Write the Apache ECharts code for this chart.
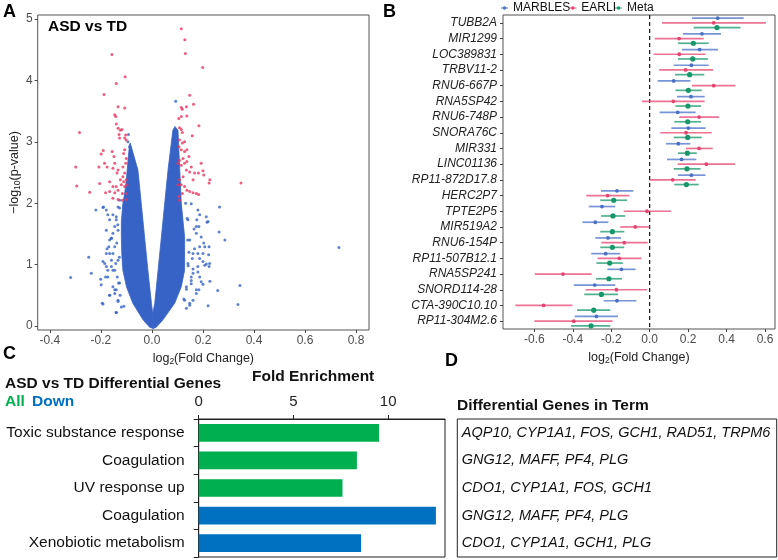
<!DOCTYPE html>
<html><head><meta charset="utf-8">
<script src="https://cdn.jsdelivr.net/npm/echarts@6.0.0/dist/echarts.min.js"></script>
<style>html,body{margin:0;padding:0;background:#fff}#c{width:778px;height:560px}</style>
</head><body><div id="c"></div>
<script>
const FONT = "'Liberation Sans', Arial, Helvetica, sans-serif";

// ---------- Panel A: volcano ----------
const volcanoXTicks = [-0.4, -0.2, 0, 0.2, 0.4, 0.6, 0.8];
const volcanoYTicks = [0, 1, 2, 3, 4, 5];
const volcanoSignificant = [
 [-0.157,4.42],[-0.105,4.06],[-0.140,3.95],[-0.188,3.77],[-0.133,3.57],[-0.107,3.55],[-0.146,3.44],[-0.142,3.41],[-0.140,3.29],[-0.284,3.15],
 [-0.133,3.22],[-0.124,3.19],[-0.118,3.20],[-0.129,3.12],[-0.103,3.11],[-0.107,3.06],[-0.127,3.06],[-0.101,3.03],[-0.191,2.86],[-0.199,2.80],
 [-0.156,2.84],[-0.149,2.76],[-0.107,2.87],[-0.111,2.81],[-0.101,2.73],[-0.103,2.65],[-0.208,2.59],[-0.299,2.59],[-0.186,2.65],[-0.176,2.59],
 [-0.146,2.65],[-0.153,2.57],[-0.133,2.54],[-0.114,2.59],[-0.107,2.49],[-0.114,2.43],[-0.137,2.49],[-0.124,2.38],[-0.111,2.35],[-0.101,2.38],
 [-0.295,2.28],[-0.205,2.32],[-0.166,2.35],[-0.153,2.27],[-0.140,2.27],[-0.120,2.30],[-0.107,2.27],[-0.098,2.30],[-0.244,2.18],[-0.182,2.17],
 [-0.166,2.19],[-0.146,2.17],[-0.133,2.21],[-0.116,2.16],[-0.101,2.16],[-0.153,2.08],[-0.133,2.06],[-0.116,2.05],[-0.101,2.06],
 [0.115,4.84],[0.129,4.66],[0.131,4.44],[0.199,4.21],[0.148,3.76],[0.163,3.61],[0.135,3.57],[0.115,3.56],[0.119,3.53],[0.105,3.38],
 [0.115,3.41],[0.137,3.42],[0.108,3.23],[0.115,3.20],[0.119,3.15],[0.184,3.26],[0.158,3.10],[0.108,3.03],[0.119,2.98],[0.128,3.00],
 [0.106,2.92],[0.115,2.87],[0.128,2.84],[0.137,2.87],[0.145,2.76],[0.122,2.73],[0.108,2.70],[0.102,2.65],[0.115,2.62],[0.128,2.65],
 [0.137,2.68],[0.193,2.65],[0.200,2.53],[0.203,2.46],[0.182,2.49],[0.167,2.49],[0.161,2.38],[0.154,2.59],[0.148,2.51],[0.135,2.54],
 [0.122,2.43],[0.108,2.38],[0.102,2.30],[0.227,2.38],[0.224,2.33],[0.349,2.33],[0.115,2.30],[0.128,2.27],[0.137,2.21],[0.148,2.19],
 [0.161,2.17],[0.174,2.16],[0.183,2.14],[0.106,2.11],[0.119,2.16],[0.108,2.05]
];
const volcanoOther = [
 [-0.319,0.79],[-0.248,1.12],[-0.238,0.86],[-0.220,1.89],[-0.201,0.76],[-0.192,0.36],[-0.192,1.05],[-0.166,0.50],[-0.140,0.22],[-0.179,1.18],
 [-0.176,1.26],[-0.169,1.29],[-0.166,1.40],[-0.159,1.43],[-0.190,1.94],[-0.179,1.89],[-0.173,1.81],[-0.166,1.73],[-0.199,0.67],[-0.182,0.80],
 [-0.173,0.91],[-0.159,0.97],[-0.146,0.91],[-0.153,0.64],[-0.146,0.53],[-0.140,0.59],[-0.179,0.97],[-0.153,1.51],[-0.146,1.62],[-0.140,1.78],
 [-0.133,1.94],[-0.153,1.18],[-0.159,1.07],[-0.133,0.42],[-0.120,0.31],[-0.127,2.05],[-0.094,3.00],[-0.088,2.92],[-0.082,2.85],[-0.092,3.12],
 [-0.138,1.35],[-0.142,1.02],[-0.136,0.80],[-0.134,1.65],[-0.128,1.12],[-0.131,0.70],[-0.125,0.50],[-0.110,0.32],
 [-0.192,1.93],[-0.153,1.81],[-0.140,1.73],[-0.159,1.43],[-0.146,1.29],[-0.166,1.18],[-0.133,1.07],[-0.185,1.02],[-0.153,0.91],[-0.173,0.80],
 [-0.127,0.70],[-0.146,0.59],[-0.166,0.50],[-0.133,0.40],[-0.195,0.37],[-0.140,0.22],[-0.179,1.56],[-0.133,1.56],[-0.127,1.92],
 [0.265,1.94],[0.220,1.70],[0.263,1.53],[0.286,1.40],[0.224,1.29],[0.733,1.28],[0.222,1.16],[0.226,1.02],[0.224,0.97],[0.227,0.73],
 [0.345,0.66],[0.258,0.58],[0.337,0.35],[0.220,0.33],[0.184,0.59],[0.200,0.68],[0.193,0.72],[0.187,0.80],[0.180,1.89],[0.187,1.81],
 [0.176,1.73],[0.184,1.62],[0.174,1.51],[0.193,1.45],[0.203,1.35],[0.167,1.26],[0.180,1.18],[0.187,1.10],[0.200,1.05],[0.207,0.99],
 [0.174,0.53],[0.161,0.42],[0.148,0.37],[0.093,3.66],[0.089,3.08],[0.085,3.00],[0.080,2.92],[0.095,2.95],[0.161,0.86],[0.154,0.69],
 [0.216,1.69],[0.207,1.29],[0.200,1.18],[0.213,1.01],[0.180,0.88],[0.135,0.29],[0.154,0.74],[0.161,0.93],[0.158,1.10],[0.165,1.58],
 [0.154,1.99],[0.125,0.44],[0.140,1.40],[0.145,1.20],[0.142,0.98],[0.138,1.75],[0.135,0.60],[0.132,2.00],
 [0.174,1.62],[0.148,1.40],[0.187,1.29],[0.161,1.18],[0.141,1.02],[0.180,0.97],[0.154,0.80],[0.135,0.64],[0.174,0.59],[0.128,0.42],
 [0.148,0.34],[0.213,1.78],[0.141,1.73]
];
// outlines of the two dense, overplotted arms of the V-shaped cloud of non-significant genes
const volcanoDenseLeftArm = [
 [-0.085,2.98],[-0.088,2.95],[-0.094,2.7],[-0.1,2.4],[-0.107,2.16],[-0.114,2.0],[-0.12,1.7],[-0.12,1.45],[-0.118,1.15],[-0.114,0.91],
 [-0.1,0.64],[-0.075,0.37],[-0.035,0.1],[-0.009,-0.02],[0.005,-0.04],[0.003,0.2],[-0.002,0.37],[-0.016,0.91],[-0.029,1.45],[-0.042,2.0],
 [-0.055,2.54],[-0.081,2.92]
];
const volcanoDenseRightArm = [
 [0.005,-0.04],[0.017,-0.02],[0.043,0.1],[0.089,0.37],[0.115,0.64],[0.128,0.91],[0.128,1.45],[0.115,2.0],[0.109,2.54],[0.102,3.19],
 [0.09,3.25],[0.082,3.19],[0.063,2.54],[0.05,2.0],[0.037,1.45],[0.024,0.91],[0.011,0.37],[0.003,0.2]
];

// ---------- Panel B: forest plot ----------
const forestGenes = ['TUBB2A','MIR1299','LOC389831','TRBV11-2','RNU6-667P','RNA5SP42','RNU6-748P','SNORA76C','MIR331','LINC01136',
 'RP11-872D17.8','HERC2P7','TPTE2P5','MIR519A2','RNU6-154P','RP11-507B12.1','RNA5SP241','SNORD114-28','CTA-390C10.10','RP11-304M2.6'];
const forestXTicks = [-0.6, -0.4, -0.2, 0, 0.2, 0.4, 0.6];
const forestNullLine = [0];
// [estimate, lower, upper]
const marbles = [
 [0.354,0.220,0.489],[0.272,0.173,0.371],[0.260,0.168,0.356],[0.217,0.125,0.307],[0.125,0.042,0.212],
 [0.215,0.142,0.286],[0.146,0.052,0.239],[0.201,0.113,0.291],[0.149,0.085,0.212],[0.166,0.090,0.243],
 [0.217,0.147,0.290],[-0.170,-0.253,-0.085],[-0.248,-0.317,-0.179],[-0.283,-0.350,-0.215],[-0.217,-0.283,-0.149],
 [-0.229,-0.304,-0.153],[-0.147,-0.220,-0.073],[-0.286,-0.395,-0.179],[-0.170,-0.239,-0.069],[-0.277,-0.390,-0.165]
];
const earli = [
 [0.333,0.064,0.605],[0.153,0.026,0.281],[0.154,0.021,0.290],[0.187,0.049,0.330],[0.333,0.220,0.446],
 [0.123,-0.040,0.286],[0.257,0.154,0.361],[0.189,0.055,0.323],[0.257,0.189,0.328],[0.295,0.146,0.444],
 [0.120,0.000,0.239],[-0.219,-0.330,-0.106],[-0.014,-0.135,0.111],[-0.075,-0.153,0.000],[-0.132,-0.251,-0.010],
 [-0.158,-0.271,-0.043],[-0.451,-0.598,-0.302],[-0.173,-0.333,-0.014],[-0.552,-0.699,-0.402],[-0.395,-0.600,-0.193]
];
const meta = [
 [0.350,0.229,0.472],[0.227,0.147,0.307],[0.224,0.147,0.303],[0.208,0.132,0.284],[0.201,0.134,0.271],
 [0.199,0.134,0.267],[0.198,0.128,0.267],[0.198,0.125,0.271],[0.196,0.147,0.245],[0.194,0.125,0.264],
 [0.191,0.128,0.255],[-0.187,-0.257,-0.118],[-0.191,-0.253,-0.128],[-0.194,-0.257,-0.132],[-0.194,-0.257,-0.132],
 [-0.208,-0.277,-0.139],[-0.212,-0.279,-0.144],[-0.251,-0.340,-0.165],[-0.291,-0.378,-0.205],[-0.305,-0.409,-0.205]
];

// ---------- Panel C: enrichment ----------
const enrichTerms = ['Toxic substance response','Coagulation','UV response up','Coagulation','Xenobiotic metabolism'];
const enrichFold = [9.52, 8.35, 7.59, 12.52, 8.57];
const enrichSet = ['All','All','All','Down','Down'];
const enrichTicks = [0, 5, 10];

// ---------- Panel D ----------
const termGenes = ['AQP10, CYP1A1, FOS, GCH1, RAD51, TRPM6','GNG12, MAFF, PF4, PLG','CDO1, CYP1A1, FOS, GCH1','GNG12, MAFF, PF4, PLG','CDO1, CYP1A1, GCH1, PLG'];

const BLUE_A = '#3763C6', RED_A = '#E8365F';
const C_MARBLES = '#4A70C6', C_EARLI = '#E6446F', C_META = '#17976A';
const C_ALL = '#00B050', C_DOWN = '#0070C0';

const chart = echarts.init(document.getElementById('c'), null, {renderer: 'canvas'});

function forestSeries(name, rows, color, frac, r) {
  return {
    name, type: 'custom', xAxisIndex: 1, yAxisIndex: 1,
    itemStyle: {color},
    dimensions: ['est', 'lo', 'hi', 'row'],
    data: rows.map((d, i) => [d[0], d[1], d[2], i]),
    encode: {x: [0, 1, 2], y: 3},
    renderItem: (params, api) => {
      const row = api.value(3);
      const lo = api.coord([api.value(1), row]);
      const hi = api.coord([api.value(2), row]);
      const pt = api.coord([api.value(0), row]);
      const dy = api.size([0, 1])[1] * frac;
      return {type: 'group', children: [
        {type: 'line', shape: {x1: lo[0], y1: lo[1] + dy, x2: hi[0], y2: hi[1] + dy}, style: {stroke: color, lineWidth: 1.7, opacity: 0.75}},
        {type: 'circle', shape: {cx: pt[0], cy: pt[1] + dy, r}, style: {fill: color}}
      ]};
    }
  };
}

function armSeries(outline) {
  return {type: 'custom', xAxisIndex: 0, yAxisIndex: 0, silent: true, data: [[0, 0]],
    renderItem: (params, api) => ({type: 'polygon', shape: {points: outline.map(p => api.coord([p[0], p[1]]))},
      style: {fill: BLUE_A, stroke: BLUE_A, lineWidth: 0.8}})};
}

const axisText = {fontFamily: FONT, color: '#4d4d4d', fontSize: 12};
const legendIcon = 'path://M0,4.3H10V5.7H0Z M5,2.6A2.4,2.4,0,1,1,4.99,2.6Z';
const subRich = {s: {fontFamily: FONT, fontSize: 8.5, color: '#222', padding: [7, 0, 0, 0]}};

const option = {
  animation: false,
  textStyle: {fontFamily: FONT},
  grid: [
    {left: 37.7, top: 15, width: 331.3, height: 315, show: true, borderColor: '#555', borderWidth: 1},
    {left: 503, top: 15, width: 272, height: 314, show: true, borderColor: '#555', borderWidth: 1},
    {left: 198.7, top: 419, width: 246.3, height: 138, show: true, borderColor: '#222', borderWidth: 1},
    {left: 457.3, top: 419, width: 319.4, height: 138, show: true, borderColor: '#222', borderWidth: 1}
  ],
  legend: {
    data: ['MARBLES', 'EARLI', 'Meta'], left: 501, top: 2, padding: 0, itemGap: -1, itemWidth: 7, itemHeight: 7,
    icon: legendIcon, textStyle: {fontFamily: FONT, fontSize: 12, color: '#111'}, selectedMode: false
  },
  xAxis: [
    {gridIndex: 0, type: 'value', min: -0.448, max: 0.851, splitLine: {show: false}, axisLine: {show: false, onZero: false},
     axisTick: {show: true, length: 3, lineStyle: {color: '#444'}, customValues: volcanoXTicks},
     axisLabel: Object.assign({customValues: volcanoXTicks, formatter: v => v.toFixed(1), margin: 5}, axisText),
     name: 'log{s|2}(Fold Change)', nameLocation: 'middle', nameGap: 16,
     nameTextStyle: {fontFamily: FONT, fontSize: 12.5, color: '#222', rich: subRich}},
    {gridIndex: 1, type: 'value', min: -0.763, max: 0.652, splitLine: {show: false}, axisLine: {show: false, onZero: false},
     axisTick: {show: true, length: 3, lineStyle: {color: '#444'}, customValues: forestXTicks},
     axisLabel: Object.assign({customValues: forestXTicks, formatter: v => v.toFixed(1), margin: 5}, axisText),
     name: 'log{s|2}(Fold Change)', nameLocation: 'middle', nameGap: 16,
     nameTextStyle: {fontFamily: FONT, fontSize: 12.5, color: '#222', rich: subRich}},
    {gridIndex: 2, type: 'value', position: 'top', min: 0, max: 13, splitLine: {show: false},
     axisLine: {show: true, onZero: false, lineStyle: {color: '#222'}},
     axisTick: {show: true, length: 4, lineStyle: {color: '#222'}, customValues: enrichTicks},
     axisLabel: {customValues: enrichTicks, fontFamily: FONT, fontSize: 15, color: '#222', margin: 10}},
    {gridIndex: 3, type: 'value', min: 0, max: 1, show: false}
  ],
  yAxis: [
    {gridIndex: 0, type: 'value', min: -0.065, max: 5.065, splitLine: {show: false}, axisLine: {show: false, onZero: false},
     axisTick: {show: true, length: 3, lineStyle: {color: '#444'}, customValues: volcanoYTicks},
     axisLabel: Object.assign({customValues: volcanoYTicks, margin: 5}, axisText),
     name: '\u2212log{s|10}(p-value)', nameLocation: 'middle', nameGap: 15, nameRotate: 90,
     nameTextStyle: {fontFamily: FONT, fontSize: 12.5, color: '#222', rich: subRich}},
    {gridIndex: 1, type: 'category', data: forestGenes, inverse: true, axisLine: {show: false, onZero: false},
     axisTick: {show: true, length: 3, alignWithLabel: true, lineStyle: {color: '#444'}},
     axisLabel: {fontFamily: FONT, fontSize: 12, fontStyle: 'italic', color: '#222', margin: 6}},
    {gridIndex: 2, type: 'category', data: enrichTerms, inverse: true,
     axisLine: {show: true, onZero: false, lineStyle: {color: '#222'}},
     axisTick: {show: true, length: 5, lineStyle: {color: '#222'}},
     axisLabel: {fontFamily: FONT, fontSize: 15.5, color: '#111', margin: 14}},
    {gridIndex: 3, type: 'category', data: termGenes, inverse: true, axisLine: {show: false, onZero: false}, axisTick: {show: false},
     axisLabel: {inside: true, align: 'left', fontFamily: FONT, fontSize: 14.5, fontStyle: 'italic', color: '#111', margin: 4.5}}
  ],
  series: [
    armSeries(volcanoDenseLeftArm),
    armSeries(volcanoDenseRightArm),
    {type: 'scatter', xAxisIndex: 0, yAxisIndex: 0, data: volcanoOther, symbolSize: 3, itemStyle: {color: BLUE_A}, silent: true},
    {type: 'scatter', xAxisIndex: 0, yAxisIndex: 0, data: volcanoSignificant, symbolSize: 3, itemStyle: {color: RED_A}, silent: true},
    {type: 'custom', xAxisIndex: 1, yAxisIndex: 1, silent: true, data: forestNullLine.map(v => [v, 0]),
     renderItem: (params, api) => {
       const p = api.coord([api.value(0), 0]);
       const cs = params.coordSys;
       return {type: 'line', shape: {x1: p[0], y1: cs.y, x2: p[0], y2: cs.y + cs.height},
         style: {stroke: '#111', lineWidth: 1.2, lineDash: [4, 3]}};
     }},
    forestSeries('MARBLES', marbles, C_MARBLES, -0.3, 1.9),
    forestSeries('EARLI', earli, C_EARLI, 0, 1.9),
    forestSeries('Meta', meta, C_META, 0.3, 2.6),
    {type: 'bar', xAxisIndex: 2, yAxisIndex: 2, barWidth: '64%', silent: true,
     data: enrichFold.map((v, i) => ({value: v, itemStyle: {color: enrichSet[i] === 'All' ? C_ALL : C_DOWN}}))}
  ],
  graphic: [
    {type: 'text', x: 3, y: 12, style: {text: 'A', font: 'bold 18px ' + FONT, fill: '#000', verticalAlign: 'middle'}},
    {type: 'text', x: 383, y: 12, style: {text: 'B', font: 'bold 18px ' + FONT, fill: '#000', verticalAlign: 'middle'}},
    {type: 'text', x: 3, y: 354, style: {text: 'C', font: 'bold 18px ' + FONT, fill: '#000', verticalAlign: 'middle'}},
    {type: 'text', x: 445, y: 361, style: {text: 'D', font: 'bold 18px ' + FONT, fill: '#000', verticalAlign: 'middle'}},
    {type: 'text', x: 48, y: 27, style: {text: 'ASD vs TD', font: 'bold 15.5px ' + FONT, fill: '#000', verticalAlign: 'middle'}},
    {type: 'text', x: 5, y: 383.5, style: {text: 'ASD vs TD Differential Genes', font: 'bold 15.5px ' + FONT, fill: '#111', verticalAlign: 'middle'}},
    {type: 'text', x: 5, y: 402, style: {text: 'All', font: 'bold 15.5px ' + FONT, fill: C_ALL, verticalAlign: 'middle'}},
    {type: 'text', x: 32, y: 402, style: {text: 'Down', font: 'bold 15.5px ' + FONT, fill: C_DOWN, verticalAlign: 'middle'}},
    {type: 'text', x: 252, y: 377, style: {text: 'Fold Enrichment', font: 'bold 15.5px ' + FONT, fill: '#111', verticalAlign: 'middle'}},
    {type: 'text', x: 457, y: 406, style: {text: 'Differential Genes in Term', font: 'bold 15.5px ' + FONT, fill: '#111', verticalAlign: 'middle'}}
  ]
};
chart.setOption(option);
</script></body></html>
